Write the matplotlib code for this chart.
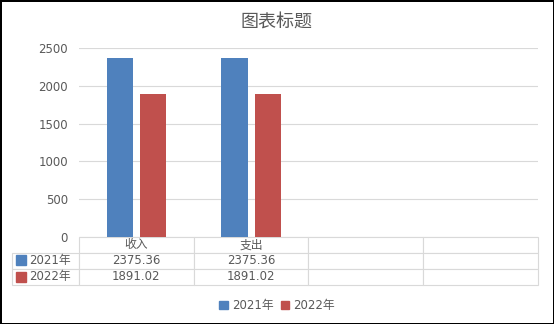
import matplotlib
matplotlib.use("Agg")
import matplotlib.pyplot as plt
import numpy as np
from matplotlib.patches import Patch

plt.rcParams['font.family'] = ['DejaVu Sans', 'Noto Sans CJK SC']

categories = ['收入', '支出', '', '']
series_names = ['2021年', '2022年']
values_2021 = [2375.36, 2375.36]
values_2022 = [1891.02, 1891.02]
yticks = [0, 500, 1000, 1500, 2000, 2500]
title = '图表标题'

colors = ['#4f81bd', '#c0504d']
text_color = '#595959'
line_color = '#d9d9d9'

fig = plt.figure(figsize=(5.54, 3.24), dpi=100)
fig.patch.set_edgecolor('black')
fig.patch.set_linewidth(2)
ax = fig.add_axes([0.1426, 0.2691, 0.8285, 0.5818])

x = np.arange(len(values_2021))
bw = 0.227
off = 0.145
ax.bar(x - off, values_2021, bw, color=colors[0], zorder=3)
ax.bar(x + off, values_2022, bw, color=colors[1], zorder=3)

ax.set_xlim(-0.5, len(categories) - 0.5)
ax.set_ylim(0, 2500)
ax.set_yticks(yticks)
ax.set_xticks([])
ax.tick_params(axis='y', length=0, pad=8, labelsize=8.5, labelcolor=text_color)
ax.grid(axis='y', color=line_color, linewidth=0.8, zorder=0)
for s in ax.spines.values():
    s.set_visible(False)

fig.text(0.5, 0.93, title, ha='center', va='center', fontsize=13,
         color=text_color, family=['Noto Sans CJK SC'])

# data table under the plot; first column holds the series keys
cell_text = []
for vals in (values_2021, values_2022):
    row = [''] + ['%.2f' % v for v in vals] + [''] * (len(categories) - len(vals))
    cell_text.append(row)

lab_w = 66.6 / 459
col_w = 1.0 / len(categories)
tbl = ax.table(cellText=cell_text, colLabels=[''] + categories,
               colWidths=[lab_w] + [col_w] * len(categories), cellLoc='center',
               bbox=[-lab_w, -0.2557, 1 + lab_w, 0.2557])
tbl.auto_set_font_size(False)
tbl.set_fontsize(8.5)
for (r, c), cell in tbl.get_celld().items():
    cell.set_edgecolor(line_color)
    cell.set_linewidth(0.8)
    cell.get_text().set_color(text_color)
    if r == 0 and c == 0:
        cell.visible_edges = ''

row_y = [-0.1247, -0.2117]
for name, col, yy in zip(series_names, colors, row_y):
    ax.plot([-0.1274], [yy], marker='s', markersize=6.5, color=col,
            transform=ax.transAxes, clip_on=False, linestyle='none')
    ax.text(-0.1083, yy, name, transform=ax.transAxes, ha='left', va='center',
            fontsize=8.5, color=text_color)

handles = [Patch(color=c, label=n) for c, n in zip(colors, series_names)]
fig.legend(handles=handles, loc='center', bbox_to_anchor=(0.5, 0.057), ncol=2,
           frameon=False, fontsize=8.5, labelcolor=text_color,
           handlelength=0.75, handleheight=0.75, handletextpad=0.3,
           columnspacing=0.6)

fig.savefig('out.png', dpi=100)
